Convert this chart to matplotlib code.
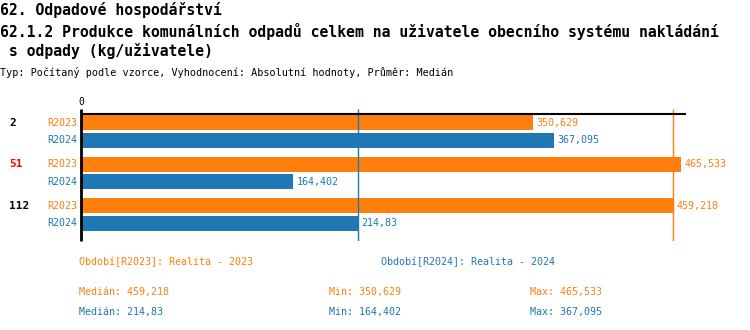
import numpy as np
import matplotlib.pyplot as plt
from matplotlib.transforms import blended_transform_factory

# data per municipality (kg per user)
groups = ['2', '51', '112']
group_colors = ['black', 'red', 'black']
series = ['R2023', 'R2024']
r2023 = [350.629, 465.533, 459.218]
r2024 = [367.095, 164.402, 214.83]
series_labels = ['Období[R2023]: Realita - 2023', 'Období[R2024]: Realita - 2024']

orange = '#ff7f0e'
blue = '#1f77b4'
mono = 'DejaVu Sans Mono'

W, H = 750, 330


def fx(px):
    return px / W


def fy(py):
    return 1 - py / H


def fmt(v):
    s = ('%.3f' % v).rstrip('0').rstrip('.')
    return s.replace('.', ',')


fig = plt.figure(figsize=(7.5, 3.3), dpi=100)

# header
fig.text(fx(0), fy(10), '62. Odpadové hospodářství', family=mono, fontsize=10.6,
         fontweight='bold', va='center')
fig.text(fx(0), fy(31), '62.1.2 Produkce komunálních odpadů celkem na uživatele obecního systému nakládání',
         family=mono, fontsize=10.6, fontweight='bold', va='center')
fig.text(fx(0), fy(51), ' s odpady (kg/uživatele)', family=mono, fontsize=10.6,
         fontweight='bold', va='center')
fig.text(fx(0), fy(73), 'Typ: Počítaný podle vzorce, Vyhodnocení: Absolutní hodnoty, Průměr: Medián',
         family=mono, fontsize=7.25, va='center')

# plot area
ax = fig.add_axes([fx(81), fy(241), fx(686) - fx(81), (241 - 109) / H])
ax.set_xlim(0, 469.5)
ax.set_ylim(132, 0)
ax.axis('off')

vals = [r2023, r2024]
cols = [orange, blue]
for i, g in enumerate(groups):
    for j in range(2):
        y = 13.7 + 41.5 * i + 17.7 * j
        v = vals[j][i]
        ax.barh(y, v, height=15, color=cols[j])
        ax.annotate(fmt(v), (v, y), xytext=(2.5, 0), textcoords='offset points',
                    va='center', ha='left', color=cols[j], family=mono, fontsize=7.2)
        ax.annotate(series[j], (0, y), xytext=(-2.5, 0), textcoords='offset points',
                    va='center', ha='right', color=cols[j], family=mono, fontsize=7.2,
                    annotation_clip=False)
    trans = blended_transform_factory(fig.transFigure, ax.transData)
    ax.text(fx(9), 13.7 + 41.5 * i, g, transform=trans, va='center', ha='left',
            color=group_colors[i], family=mono, fontsize=8, fontweight='bold')

# median lines
med23 = np.median(r2023)
med24 = np.median(r2024)
ax.vlines(med23, 0, 132, color=orange, lw=1)
ax.vlines(med24, 0, 132, color=blue, lw=1)

# axes lines
ax.hlines(5, 0, 469.5, color='black', lw=1.5, clip_on=False)
ax.vlines(0, 0, 132, color='black', lw=2, clip_on=False)
ax.text(0, -7, '0', ha='center', va='center', family=mono, fontsize=7)

# legend and summary
fig.text(fx(79), fy(262), series_labels[0], color=orange, family=mono, fontsize=7.2, va='center')
fig.text(fx(381), fy(262), series_labels[1], color=blue, family=mono, fontsize=7.2, va='center')
for k, (v, c) in enumerate([(r2023, orange), (r2024, blue)]):
    yy = fy(292 + 20 * k)
    fig.text(fx(79), yy, 'Medián: ' + fmt(np.median(v)), color=c, family=mono, fontsize=7.2, va='center')
    fig.text(fx(329), yy, 'Min: ' + fmt(min(v)), color=c, family=mono, fontsize=7.2, va='center')
    fig.text(fx(530), yy, 'Max: ' + fmt(max(v)), color=c, family=mono, fontsize=7.2, va='center')

fig.savefig('out.png', dpi=100)
